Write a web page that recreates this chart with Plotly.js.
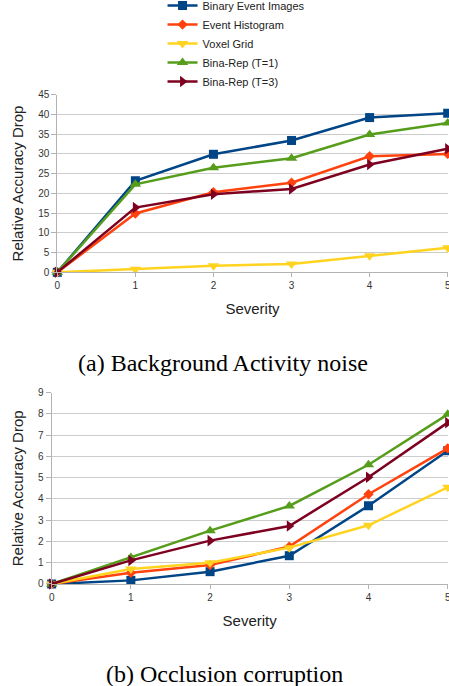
<!DOCTYPE html>
<html>
<head>
<meta charset="utf-8">
<script src="https://cdn.plot.ly/plotly-3.0.1.min.js"></script>
<style>html,body{margin:0;padding:0;background:#fff;}#chart{width:449px;height:686px;}</style>
</head>
<body>
<div id="chart"></div>
<script>
const severity = [0, 1, 2, 3, 4, 5];
const seriesNames = ["Binary Event Images", "Event Histogram", "Voxel Grid", "Bina-Rep (T=1)", "Bina-Rep (T=3)"];

// (a) Background Activity noise
const bgBinary    = [0, 23.2, 29.9, 33.4, 39.2, 40.3];
const bgHistogram = [0, 14.9, 20.3, 22.7, 29.4, 30.0];
const bgVoxel     = [0, 0.8, 1.7, 2.1, 4.2, 6.2];
const bgBinaT1    = [0, 22.3, 26.5, 28.9, 34.9, 37.8];
const bgBinaT3    = [0, 16.4, 19.8, 21.1, 27.3, 31.3];

// (b) Occlusion corruption
const ocBinary    = [0, 0.17, 0.58, 1.33, 3.68, 6.27];
const ocHistogram = [0, 0.53, 0.89, 1.76, 4.22, 6.38];
const ocVoxel     = [0, 0.70, 1.00, 1.71, 2.76, 4.55];
const ocBinaT1    = [0, 1.25, 2.51, 3.67, 5.61, 7.98];
const ocBinaT3    = [0, 1.11, 2.04, 2.73, 5.02, 7.59];

const colors  = ["#004586", "#ff420e", "#ffd320", "#579d1c", "#7e0021"];
const symbols = ["square", "diamond", "triangle-down", "triangle-up", "triangle-right"];
const sizes   = [9, 8, 10, 10, 10];

const topSeries = [bgBinary, bgHistogram, bgVoxel, bgBinaT1, bgBinaT3];
const botSeries = [ocBinary, ocHistogram, ocVoxel, ocBinaT1, ocBinaT3];

const traces = [];
topSeries.forEach((ys, i) => {
  traces.push({
    x: severity, y: ys, name: seriesNames[i], type: "scatter", mode: "lines+markers",
    xaxis: "x", yaxis: "y", cliponaxis: false, legendgroup: "g" + i,
    line: {color: colors[i], width: 2.5},
    marker: {symbol: symbols[i], size: sizes[i], color: colors[i]}
  });
});
botSeries.forEach((ys, i) => {
  traces.push({
    x: severity, y: ys, name: seriesNames[i], type: "scatter", mode: "lines+markers",
    xaxis: "x2", yaxis: "y2", cliponaxis: false, legendgroup: "g" + i, showlegend: false,
    line: {color: colors[i], width: 2.5},
    marker: {symbol: symbols[i], size: sizes[i], color: colors[i]}
  });
});

const tickFont = {family: "Liberation Sans, Arial, sans-serif", size: 10, color: "#333"};
const titleFont = {family: "Liberation Sans, Arial, sans-serif", size: 15, color: "#222"};

function xAxis(domain, anchor) {
  return {
    domain: domain, anchor: anchor, range: [0, 5], tickvals: severity, showgrid: false,
    showline: true, linecolor: "#b3b3b3", linewidth: 1, ticks: "outside", ticklen: 4,
    tickcolor: "#b3b3b3", tickfont: tickFont, zeroline: false, ticklabeloverflow: "allow",
    automargin: false,
    title: {text: "Severity", font: titleFont, standoff: 13}
  };
}
function yAxis(domain, anchor, max, dtick) {
  return {
    domain: domain, anchor: anchor, range: [0, max], dtick: dtick, showgrid: true,
    gridcolor: "#cccccc", gridwidth: 1, showline: true, linecolor: "#b3b3b3", linewidth: 1,
    ticks: "outside", ticklen: 5, tickcolor: "#b3b3b3", tickfont: tickFont, zeroline: false,
    automargin: false,
    title: {text: "Relative Accuracy Drop", font: titleFont, standoff: 10}
  };
}

const layout = {
  width: 449, height: 686,
  margin: {l: 0, r: 0, t: 0, b: 0, autoexpand: false},
  paper_bgcolor: "#fff", plot_bgcolor: "#fff",
  showlegend: true,
  legend: {
    x: 0.362, y: 1.013, xanchor: "left", yanchor: "top",
    font: {family: "Liberation Sans, Arial, sans-serif", size: 11, color: "#222"},
    bgcolor: "rgba(0,0,0,0)", itemwidth: 30, tracegroupgap: 0
  },
  xaxis: xAxis([0.1276, 0.9971], "y"),
  yaxis: yAxis([0.603, 0.862], "x", 45, 5),
  xaxis2: xAxis([0.1151, 0.9971], "y2"),
  yaxis2: yAxis([0.1487, 0.4276], "x2", 9, 1),
  annotations: [
    {text: "(a) Background Activity noise", xref: "paper", yref: "paper", x: 223/449, y: 1 - 363/686,
     xanchor: "center", yanchor: "middle", showarrow: false,
     font: {family: "Liberation Serif, Times New Roman, serif", size: 24, color: "#000"}},
    {text: "(b) Occlusion corruption", xref: "paper", yref: "paper", x: 224/449, y: 1 - 674/686,
     xanchor: "center", yanchor: "middle", showarrow: false,
     font: {family: "Liberation Serif, Times New Roman, serif", size: 24, color: "#000"}}
  ]
};

Plotly.newPlot("chart", traces, layout, {displayModeBar: false, staticPlot: true});
</script>
</body>
</html>
